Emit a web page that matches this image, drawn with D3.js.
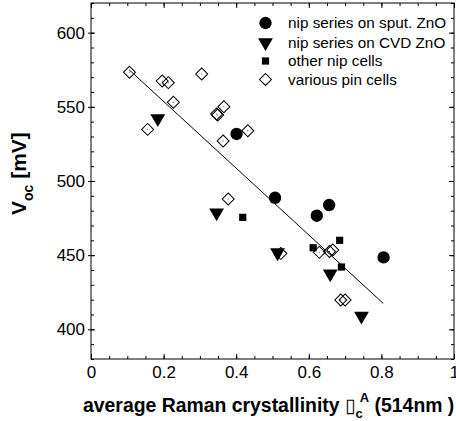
<!DOCTYPE html>
<html>
<head>
<meta charset="utf-8">
<script src="https://cdn.jsdelivr.net/npm/d3@7"></script>
<style>
  body { margin: 0; background: #fff; }
  svg { display: block; font-family: "Liberation Sans", Arial, sans-serif; }
</style>
</head>
<body>
<div id="chart"></div>
<script>
// nip series on sputtered ZnO
const sputX = [0.401, 0.507, 0.622, 0.656, 0.806]
const sputY = [531.7, 488.7, 476.6, 483.8, 448.5]
// nip series on CVD ZnO
const cvdX = [0.184, 0.346, 0.514, 0.659, 0.745]
const cvdY = [542.2, 478.6, 451.7, 437.5, 409]
// other nip cells
const otherX = [0.418, 0.612, 0.685, 0.690]
const otherY = [475.5, 455, 460, 442]
// various pin cells
const pinX = [0.106, 0.156, 0.196, 0.213, 0.227, 0.305, 0.346, 0.349, 0.366, 0.364, 0.378, 0.432, 0.523, 0.629, 0.657, 0.666, 0.688, 0.700]
const pinY = [573.3, 534.8, 567.4, 566.3, 553.1, 572.1, 545.2, 544.5, 550.1, 527, 487.9, 533.9, 451.2, 451.9, 452.5, 453.5, 419.8, 419.8]
// linear fit
const fitX = [0.105, 0.805]
const fitY = [575, 417.5]

const xTicks = [0, 0.2, 0.4, 0.6, 0.8, 1]
const yTicks = [400, 450, 500, 550, 600]
const legendLabels = ["nip series on sput. ZnO", "nip series on CVD ZnO", "other nip cells", "various pin cells"]

const width = 456, height = 421
const plot = { left: 91, right: 454, top: 3, bottom: 359 }

const svg = d3.select("#chart").append("svg")
  .attr("width", width).attr("height", height)

const x = d3.scaleLinear().domain([0, 1]).range([plot.left, plot.right])
const y = d3.scaleLinear().domain([380, 620]).range([plot.bottom, plot.top])

const minorX = d3.range(0, 1.0001, 0.05)
const minorY = d3.range(380, 620.001, 10)

function styleAxis(g) {
  g.select(".domain").remove()
  g.selectAll("line").attr("stroke", "#000").attr("stroke-width", 1)
  g.selectAll("text").attr("fill", "#000").attr("font-size", 17)
    .attr("font-family", "Liberation Sans, Arial, sans-serif")
}

// bottom: minor + major ticks inward, labels
svg.append("g").attr("transform", `translate(0,${plot.bottom})`)
  .call(d3.axisBottom(x).tickValues(minorX).tickSize(-3).tickFormat(""))
  .call(styleAxis)
svg.append("g").attr("transform", `translate(0,${plot.bottom})`)
  .call(d3.axisBottom(x).tickValues(xTicks).tickSize(-5).tickPadding(7).tickFormat(d3.format("~g")))
  .call(styleAxis)
// top mirror
svg.append("g").attr("transform", `translate(0,${plot.top})`)
  .call(d3.axisTop(x).tickValues(minorX).tickSize(-3).tickFormat(""))
  .call(styleAxis)
svg.append("g").attr("transform", `translate(0,${plot.top})`)
  .call(d3.axisTop(x).tickValues(xTicks).tickSize(-5).tickFormat(""))
  .call(styleAxis)

// left: minor inward, major crossing, labels
svg.append("g").attr("transform", `translate(${plot.left},0)`)
  .call(d3.axisLeft(y).tickValues(minorY).tickSize(-3).tickFormat(""))
  .call(styleAxis)
svg.append("g").attr("transform", `translate(${plot.left},0)`)
  .call(d3.axisLeft(y).tickValues(yTicks).tickSize(-4).tickFormat(""))
  .call(styleAxis)
svg.append("g").attr("transform", `translate(${plot.left},0)`)
  .call(d3.axisLeft(y).tickValues(yTicks).tickSize(3).tickPadding(3))
  .call(styleAxis)
// right mirror
svg.append("g").attr("transform", `translate(${plot.right},0)`)
  .call(d3.axisRight(y).tickValues(minorY).tickSize(-3).tickFormat(""))
  .call(styleAxis)
svg.append("g").attr("transform", `translate(${plot.right},0)`)
  .call(d3.axisRight(y).tickValues(yTicks).tickSize(-5).tickFormat(""))
  .call(styleAxis)

// frame
svg.append("rect")
  .attr("x", plot.left).attr("y", plot.top)
  .attr("width", plot.right - plot.left).attr("height", plot.bottom - plot.top)
  .attr("fill", "none").attr("stroke", "#000").attr("stroke-width", 1)

const sym = {
  circle: d3.symbol().type(d3.symbolCircle).size(120),
  triangle: d3.symbol().type(d3.symbolTriangle).size(95),
  square: d3.symbol().type(d3.symbolSquare).size(52),
  diamond: d3.symbol().type(d3.symbolSquare).size(72)
}

const zip = (xs, ys) => xs.map((v, i) => [v, ys[i]])

// pin cells (open diamonds)
const pins = svg.append("g").selectAll("g")
  .data(zip(pinX, pinY))
  .join("g")
  .attr("transform", d => `translate(${x(d[0])},${y(d[1])})`)
pins.append("path")
  .attr("d", sym.diamond())
  .attr("transform", "rotate(45)")
  .attr("fill", "none").attr("stroke", "#000").attr("stroke-width", 1)
pins.append("circle").attr("r", 0.6).attr("fill", "#666")

// fit line
svg.append("path")
  .datum(zip(fitX, fitY))
  .attr("d", d3.line().x(d => x(d[0])).y(d => y(d[1])))
  .attr("fill", "none").attr("stroke", "#000").attr("stroke-width", 1)

// other nip (squares)
svg.append("g").selectAll("path")
  .data(zip(otherX, otherY))
  .join("path")
  .attr("d", sym.square())
  .attr("transform", d => `translate(${x(d[0])},${y(d[1])})`)
  .attr("fill", "#000")

// CVD (down triangles)
svg.append("g").selectAll("path")
  .data(zip(cvdX, cvdY))
  .join("path")
  .attr("d", sym.triangle())
  .attr("transform", d => `translate(${x(d[0])},${y(d[1])}) rotate(180)`)
  .attr("fill", "#000")

// sput (circles)
svg.append("g").selectAll("path")
  .data(zip(sputX, sputY))
  .join("path")
  .attr("d", sym.circle())
  .attr("transform", d => `translate(${x(d[0])},${y(d[1])})`)
  .attr("fill", "#000")

// legend
const legendRows = [23, 42.5, 61, 79.5]
const legendMarks = ["circle", "triangle", "square", "diamond"]
const lg = svg.append("g")
legendMarks.forEach((m, i) => {
  const p = lg.append("path")
    .attr("d", sym[m]())
    .attr("transform", `translate(265.5,${legendRows[i]})` + (m === "triangle" ? " rotate(180)" : m === "diamond" ? " rotate(45)" : ""))
  if (m === "diamond") p.attr("fill", "none").attr("stroke", "#000")
  else p.attr("fill", "#000")
  lg.append("text")
    .attr("x", 288).attr("y", legendRows[i] + 5)
    .attr("font-size", 15.3).attr("fill", "#000")
    .text(legendLabels[i])
})

// x title
const xt = svg.append("text")
  .attr("x", 83).attr("y", 412)
  .attr("font-size", 19.4).attr("font-weight", "bold").attr("fill", "#000")
xt.append("tspan").text("average Raman crystallinity ")
xt.append("tspan").attr("font-family", "DejaVu Sans").attr("font-weight", "normal").text("\u25AF")
xt.append("tspan").attr("font-size", 13).attr("dy", 6).text("c")
xt.append("tspan").attr("font-size", 13).attr("dx", -3).attr("dy", -16).text("A")
xt.append("tspan").attr("dy", 10).text(" (514nm )")

// y title
const yt = svg.append("text")
  .attr("transform", "translate(26,215) rotate(-90)")
  .attr("font-size", 21).attr("font-weight", "bold").attr("fill", "#000")
yt.append("tspan").text("V")
yt.append("tspan").attr("font-size", 14).attr("dy", 7).text("oc")
yt.append("tspan").attr("dy", -7).text(" [mV]")
</script>
</body>
</html>
